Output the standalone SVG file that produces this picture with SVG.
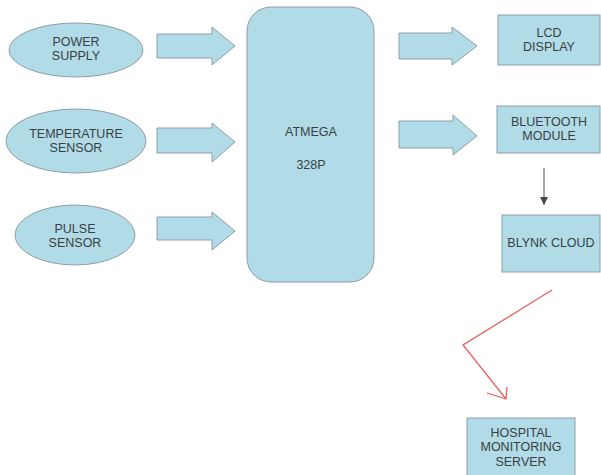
<svg xmlns="http://www.w3.org/2000/svg" width="601" height="475" viewBox="0 0 601 475">
<defs>
<style>
.n{fill:#b1dbe7;stroke:#8e9fa5;stroke-width:1}
.t{font-family:"Liberation Sans",Arial,sans-serif;font-size:12.5px;fill:#3a3f42;text-anchor:middle}
.ba{fill:#b1dbe7;stroke:#8e9fa5;stroke-width:1}
</style>
<marker id="ah" markerWidth="8" markerHeight="8" refX="8" refY="4" orient="auto" markerUnits="userSpaceOnUse">
<path d="M0,0 L8,4 L0,8 Z" fill="#444"/>
</marker>
</defs>
<rect width="601" height="475" fill="#fff"/>
<g id="power-supply"><ellipse class="n" cx="76" cy="50" rx="67" ry="27"/><text class="t" x="76" y="46">POWER</text><text class="t" x="76" y="60">SUPPLY</text></g>
<g id="temperature-sensor"><ellipse class="n" cx="76" cy="141" rx="70" ry="32"/><text class="t" x="76" y="138">TEMPERATURE</text><text class="t" x="76" y="152">SENSOR</text></g>
<g id="pulse-sensor"><ellipse class="n" cx="75" cy="235" rx="60" ry="30"/><text class="t" x="75" y="233">PULSE</text><text class="t" x="75" y="247">SENSOR</text></g>
<g id="atmega"><rect class="n" x="247" y="7" width="127" height="275" rx="24"/><text class="t" x="311" y="136">ATMEGA</text><text class="t" x="311" y="169">328P</text></g>
<g id="lcd-display"><rect class="n" x="498" y="15" width="102" height="50"/><text class="t" x="549" y="37">LCD</text><text class="t" x="549" y="51">DISPLAY</text></g>
<g id="bluetooth-module"><rect class="n" x="497" y="106" width="103" height="47"/><text class="t" x="549" y="126">BLUETOOTH</text><text class="t" x="549" y="140">MODULE</text></g>
<g id="blynk-cloud"><rect class="n" x="502" y="215" width="98" height="57"/><text class="t" x="551" y="247">BLYNK CLOUD</text></g>
<g id="hospital-server"><rect class="n" x="467" y="418" width="108" height="60"/><text class="t" x="521" y="437">HOSPITAL</text><text class="t" x="521" y="451">MONITORING</text><text class="t" x="521" y="466">SERVER</text></g>
<g id="connectors">
<polygon class="ba" points="157,34 212,34 212,27 235,46 212,65 212,58 157,58"/>
<polygon class="ba" points="157,128 212,128 212,123 235,142 212,162 212,153 157,153"/>
<polygon class="ba" points="157,217 212,217 212,212 235,231 212,250 212,240 157,240"/>
<polygon class="ba" points="399,33 452,33 452,27 477,46 452,65 452,59 399,59"/>
<polygon class="ba" points="399,121 453,121 453,115 477,136 453,155 453,148 399,148"/>
<line x1="544" y1="168" x2="544" y2="205" stroke="#555" stroke-width="1" marker-end="url(#ah)"/>
<polyline points="552,290 463,345 506,399" fill="none" stroke="#e8605a" stroke-width="1.3"/>
<polyline points="487,393 506,399 507,387" fill="none" stroke="#e8605a" stroke-width="1.3"/>
</g>
</svg>
